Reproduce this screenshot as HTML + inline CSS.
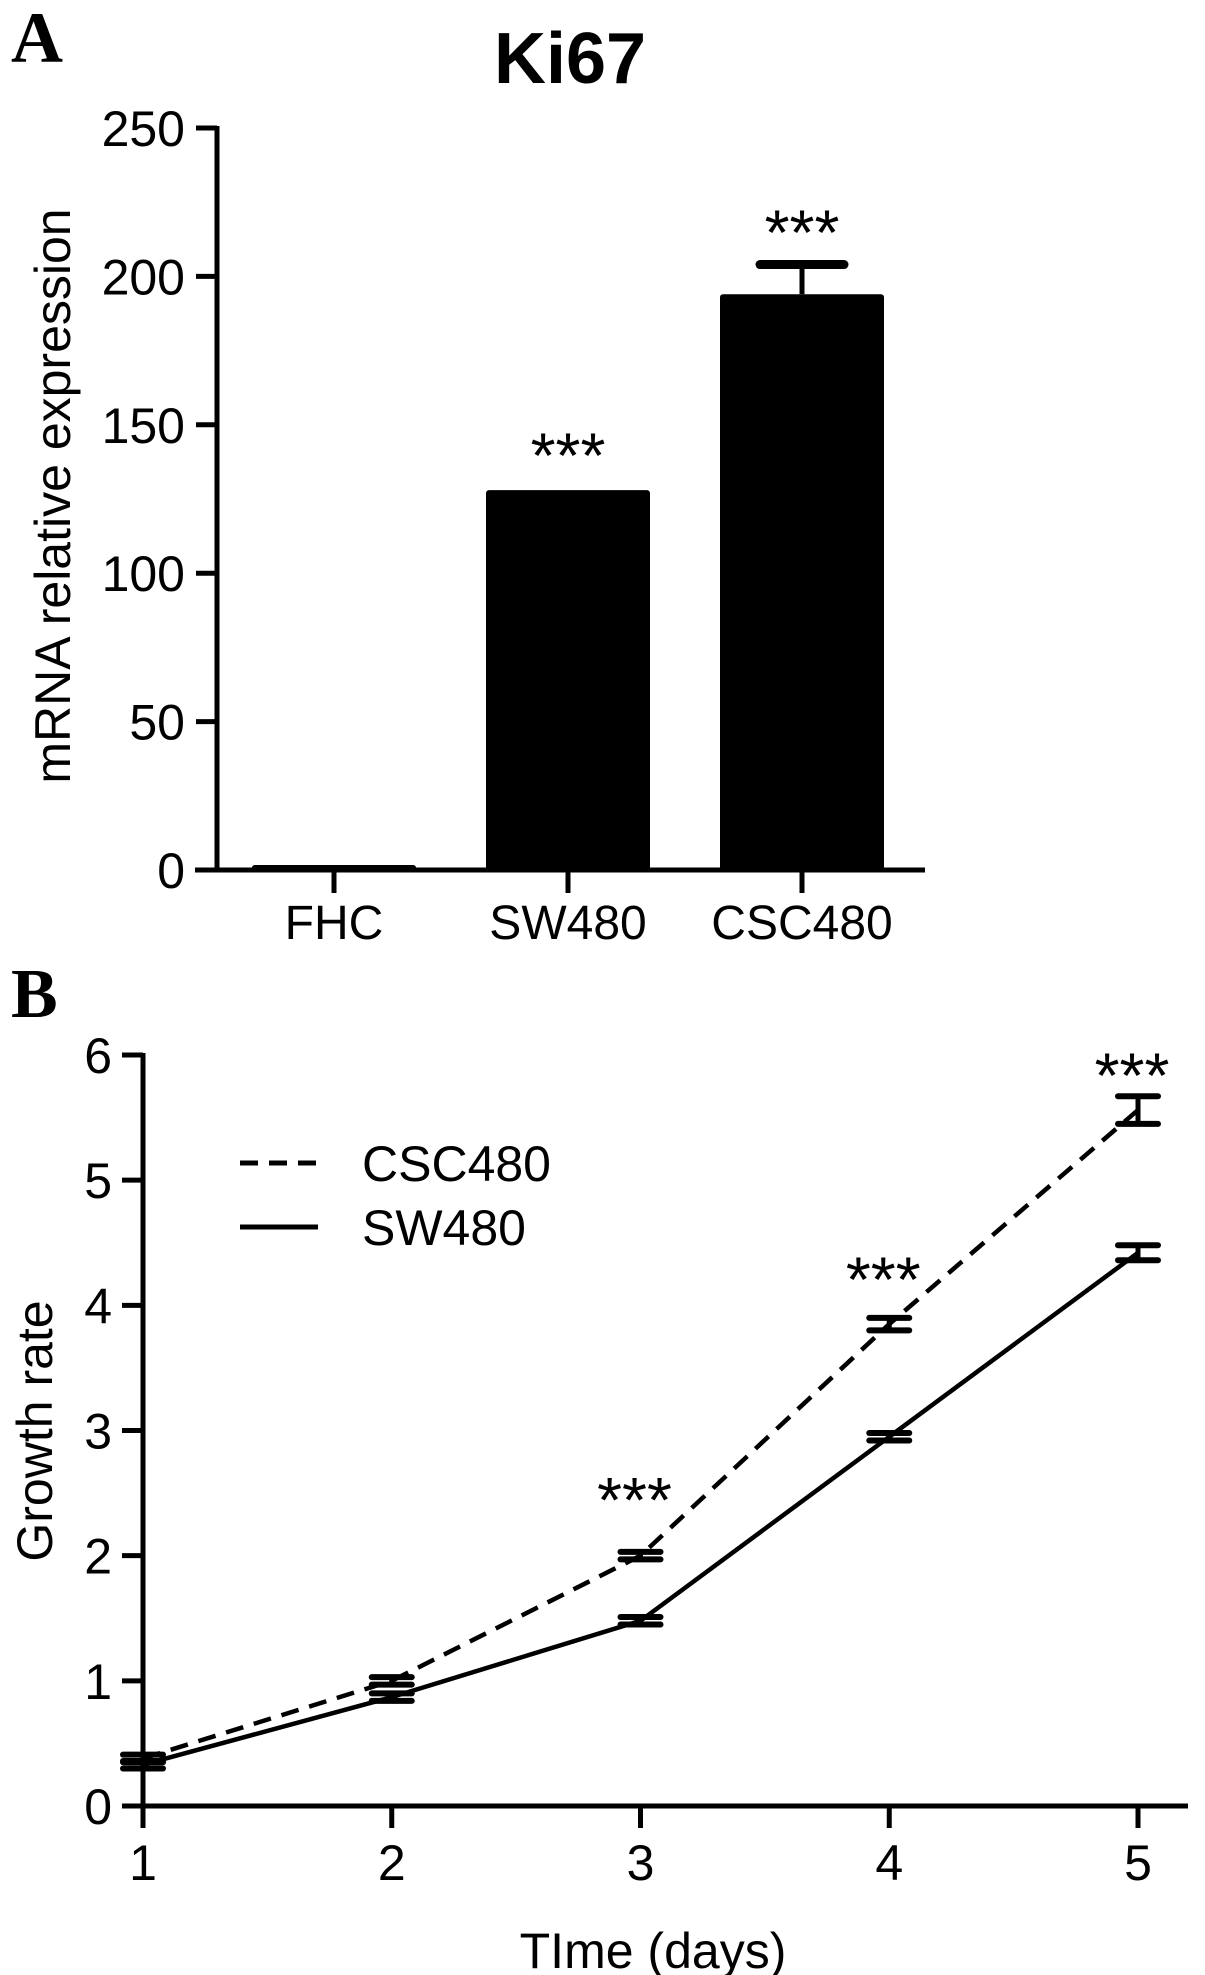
<!DOCTYPE html>
<html><head><meta charset="utf-8"><style>
html,body{margin:0;padding:0;background:#fff}
svg{display:block}
text{font-family:"Liberation Sans",sans-serif;fill:#000}
</style></head><body>
<svg id="chart" width="1205" height="1975" viewBox="0 0 1205 1975">
<text x="11" y="62" style="font-family:'Liberation Serif',serif;font-weight:bold;font-size:72px">A</text>
<text x="570" y="83" text-anchor="middle" style="font-weight:bold;font-size:72px">Ki67</text>
<text x="11" y="1017" style="font-family:'Liberation Serif',serif;font-weight:bold;font-size:70px">B</text>
<g id="ga"></g><g id="gb"></g>
</svg>
<script>
const categories=["FHC","SW480","CSC480"];
const barValues=[1,128,194];
const barErrors=[0.3,0.8,10];
const barStars=["","***","***"];
const yTicksA=[0,50,100,150,200,250];
const days=[1,2,3,4,5];
const cscValues=[0.38,1.0,2.0,3.85,5.56];
const cscErrors=[0.03,0.03,0.03,0.05,0.11];
const swValues=[0.33,0.87,1.48,2.95,4.42];
const swErrors=[0.03,0.03,0.03,0.03,0.06];
const dayStars=["","","***","***","***"];
const starLevels=[0,0,2.27,4.03,5.66];
const yTicksB=[0,1,2,3,4,5,6];

const NS="http://www.w3.org/2000/svg";
const FS=50;
function mk(p,tag,at,txt){const e=document.createElementNS(NS,tag);for(const k in at)e.setAttribute(k,at[k]);if(txt!==undefined)e.textContent=txt;p.appendChild(e);return e;}

// Panel A
const ga=document.getElementById('ga');
const yA=v=>870-(v/250)*(870-128);
const barCenters=[334,568,802];const bw=164;
let e;
e=mk(ga,'line',{x1:217,y1:126,x2:217,y2:872,stroke:'#000','stroke-width':5});

e=mk(ga,'line',{x1:195,y1:870,x2:925,y2:870,stroke:'#000','stroke-width':5});

yTicksA.forEach(t=>{
 e=mk(ga,'line',{x1:196,y1:yA(t),x2:217,y2:yA(t),stroke:'#000','stroke-width':5});
 
 e=mk(ga,'text',{x:185,y:yA(t)+18,'text-anchor':'end','font-size':FS},t);
 
});
e=mk(ga,'text',{x:0,y:0,'text-anchor':'middle','font-size':FS,transform:'translate(70,496) rotate(-90)'},'mRNA relative expression');

categories.forEach((c,i)=>{
 const cx=barCenters[i];
 e=mk(ga,'line',{x1:cx,y1:870,x2:cx,y2:893,stroke:'#000','stroke-width':5});
 
 e=mk(ga,'text',{x:cx,y:939,'text-anchor':'middle','font-size':48},c);
 
 const top=yA(barValues[i]);
 e=mk(ga,'rect',{x:cx-bw/2,y:Math.min(top,865),width:bw,height:Math.max(870-top,5),fill:'#000',rx:3});
 
 const et=yA(barValues[i]+barErrors[i]);
 if(barErrors[i]>2){
  e=mk(ga,'line',{x1:cx,y1:et,x2:cx,y2:top,stroke:'#000','stroke-width':5});
  
  e=mk(ga,'line',{x1:cx-42,y1:et,x2:cx+42,y2:et,stroke:'#000','stroke-width':9,'stroke-linecap':'round'});
  
 }
 if(barStars[i]){
  e=mk(ga,'text',{x:cx,y:et-10,'text-anchor':'middle','font-size':64},barStars[i]);
  
 }
});

// Panel B
const gb=document.getElementById('gb');
const xB=d=>143+(d-1)/4*(1138-143);
const yB=v=>1806-(v/6)*(1806-1055);
e=mk(gb,'line',{x1:143,y1:1053,x2:143,y2:1828,stroke:'#000','stroke-width':5});

e=mk(gb,'line',{x1:122,y1:1806,x2:1188,y2:1806,stroke:'#000','stroke-width':5});

yTicksB.forEach(t=>{
 e=mk(gb,'line',{x1:122,y1:yB(t),x2:143,y2:yB(t),stroke:'#000','stroke-width':5});
 
 e=mk(gb,'text',{x:112,y:yB(t)+18,'text-anchor':'end','font-size':FS},t);
 
});
days.forEach(d=>{
 e=mk(gb,'line',{x1:xB(d),y1:1806,x2:xB(d),y2:1828,stroke:'#000','stroke-width':5});
 
 e=mk(gb,'text',{x:xB(d),y:1880,'text-anchor':'middle','font-size':FS},d);
 
});
e=mk(gb,'text',{x:0,y:0,'text-anchor':'middle','font-size':FS,transform:'translate(52,1431) rotate(-90)'},'Growth rate');

e=mk(gb,'text',{x:653,y:1968,'text-anchor':'middle','font-size':FS},'TIme (days)');

function series(vals,errs,dash,name){
 const pts=days.map((d,i)=>xB(d)+','+yB(vals[i])).join(' ');
 const l=mk(gb,'polyline',{points:pts,fill:'none',stroke:'#000','stroke-width':4.5});
 if(dash)l.setAttribute('stroke-dasharray','18,11');
 
 
 days.forEach((d,i)=>{
  const x=xB(d),t=yB(vals[i]+errs[i]),b=yB(vals[i]-errs[i]);
  let g=mk(gb,'line',{x1:x,y1:t,x2:x,y2:b,stroke:'#000','stroke-width':5});
  
  
  [t,b].forEach(y=>{
   g=mk(gb,'line',{x1:x-20,y1:y,x2:x+20,y2:y,stroke:'#000','stroke-width':6,'stroke-linecap':'round'});
   
   
  });
 });
}
series(cscValues,cscErrors,true,'csc480');
series(swValues,swErrors,false,'sw480');
days.forEach((d,i)=>{
 if(dayStars[i]){
  e=mk(gb,'text',{x:xB(d)-6,y:yB(starLevels[i]),'text-anchor':'middle','font-size':64},dayStars[i]);
  
 }
});
e=mk(gb,'line',{x1:240,y1:1163,x2:318,y2:1163,stroke:'#000','stroke-width':5,'stroke-dasharray':'18,11'});

e=mk(gb,'text',{x:362,y:1181,'font-size':FS},'CSC480');

e=mk(gb,'line',{x1:240,y1:1227,x2:318,y2:1227,stroke:'#000','stroke-width':5});

e=mk(gb,'text',{x:362,y:1245,'font-size':FS},'SW480');

</script>
</body></html>
